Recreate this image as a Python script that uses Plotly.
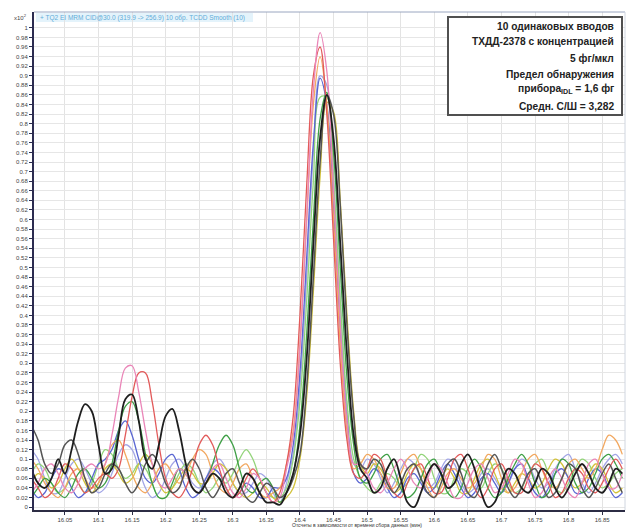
import plotly.graph_objects as go

# Retention time grid (min), 16.00 .. 16.88, step 0.01
time_min = [round(16.00 + 0.01 * i, 2) for i in range(89)]

# Counts (x10^2) for the 10 replicate injections
inj_black = [
    0.08, 0.05, 0.04, 0.06, 0.10, 0.07, 0.12, 0.18, 0.215, 0.20,
    0.13, 0.07, 0.08, 0.15, 0.225, 0.235, 0.18, 0.10, 0.08, 0.13,
    0.19, 0.205, 0.16, 0.09, 0.04, 0.03, 0.05, 0.07, 0.06, 0.03,
    0.02, 0.04, 0.07, 0.06, 0.03, 0.01, 0.01, 0.005, 0.03, 0.07,
    0.15, 0.31, 0.55, 0.77, 0.86, 0.77, 0.55, 0.32, 0.15, 0.08,
    0.06, 0.03, 0.04, 0.08, 0.10, 0.06, 0.01, 0.0, 0.03, 0.07,
    0.09, 0.07, 0.04, 0.05, 0.09, 0.11, 0.08, 0.03, 0.0, 0.01,
    0.05, 0.08, 0.07, 0.04, 0.03, 0.05, 0.08, 0.07, 0.04, 0.02,
    0.04, 0.07, 0.09, 0.07, 0.04, 0.03, 0.05, 0.08, 0.07,
]
inj_gray = [
    0.17, 0.14, 0.09, 0.07, 0.09, 0.13, 0.14, 0.11, 0.06, 0.03,
    0.04, 0.07, 0.09, 0.08, 0.05, 0.03, 0.05, 0.09, 0.11, 0.09,
    0.05, 0.03, 0.04, 0.08, 0.10, 0.08, 0.04, 0.02, 0.04, 0.07,
    0.08, 0.05, 0.02, 0.01, 0.03, 0.05, 0.04, 0.02, 0.03, 0.06,
    0.11, 0.25, 0.48, 0.72, 0.86, 0.82, 0.63, 0.38, 0.19, 0.09,
    0.08, 0.10, 0.09, 0.05, 0.03, 0.05, 0.08, 0.09, 0.06, 0.03,
    0.02, 0.05, 0.09, 0.10, 0.07, 0.03, 0.02, 0.05, 0.09, 0.11,
    0.08, 0.04, 0.02, 0.04, 0.07, 0.08, 0.05, 0.02, 0.03, 0.06,
    0.09, 0.08, 0.04, 0.02, 0.04, 0.07, 0.09, 0.06, 0.03,
]
inj_pink = [
    0.03, 0.05, 0.08, 0.09, 0.07, 0.04, 0.03, 0.05, 0.08, 0.09,
    0.08, 0.09, 0.15, 0.23, 0.29, 0.295, 0.24, 0.16, 0.09, 0.05,
    0.04, 0.06, 0.08, 0.07, 0.04, 0.03, 0.05, 0.08, 0.09, 0.06,
    0.03, 0.02, 0.04, 0.07, 0.06, 0.03, 0.01, 0.02, 0.08, 0.15,
    0.335, 0.60, 0.87, 0.99, 0.91, 0.66, 0.38, 0.18, 0.09, 0.09,
    0.07, 0.04, 0.03, 0.05, 0.08, 0.10, 0.08, 0.05, 0.04, 0.06,
    0.09, 0.08, 0.05, 0.02, 0.02, 0.05, 0.08, 0.09, 0.06, 0.03,
    0.04, 0.07, 0.10, 0.09, 0.05, 0.02, 0.03, 0.06, 0.08, 0.06,
    0.03, 0.02, 0.05, 0.09, 0.10, 0.07, 0.04, 0.04, 0.07,
]
inj_red = [
    0.06, 0.04, 0.02, 0.03, 0.06, 0.09, 0.08, 0.05, 0.03, 0.04,
    0.06, 0.07, 0.06, 0.08, 0.15, 0.23, 0.28, 0.28, 0.22, 0.13,
    0.06, 0.03, 0.02, 0.04, 0.08, 0.13, 0.15, 0.13, 0.08, 0.04,
    0.02, 0.03, 0.06, 0.08, 0.06, 0.03, 0.01, 0.03, 0.09, 0.19,
    0.40, 0.67, 0.90, 0.96, 0.82, 0.56, 0.30, 0.14, 0.07, 0.06,
    0.08, 0.11, 0.10, 0.06, 0.03, 0.02, 0.05, 0.08, 0.09, 0.06,
    0.03, 0.03, 0.06, 0.10, 0.11, 0.08, 0.04, 0.02, 0.04, 0.08,
    0.09, 0.06, 0.03, 0.03, 0.06, 0.09, 0.08, 0.05, 0.02, 0.03,
    0.06, 0.08, 0.07, 0.04, 0.03, 0.05, 0.08, 0.10, 0.08,
]
inj_orange = [
    0.10, 0.08, 0.05, 0.03, 0.02, 0.04, 0.07, 0.08, 0.06, 0.04,
    0.05, 0.09, 0.13, 0.14, 0.11, 0.07, 0.04, 0.03, 0.05, 0.08,
    0.09, 0.07, 0.05, 0.07, 0.10, 0.12, 0.11, 0.07, 0.04, 0.03,
    0.05, 0.08, 0.09, 0.06, 0.03, 0.02, 0.03, 0.04, 0.09, 0.16,
    0.34, 0.60, 0.84, 0.94, 0.84, 0.60, 0.34, 0.16, 0.08, 0.09,
    0.11, 0.10, 0.07, 0.04, 0.04, 0.07, 0.10, 0.11, 0.08, 0.04,
    0.02, 0.04, 0.07, 0.08, 0.06, 0.04, 0.05, 0.08, 0.11, 0.10,
    0.06, 0.03, 0.04, 0.07, 0.10, 0.11, 0.08, 0.05, 0.04, 0.06,
    0.09, 0.10, 0.08, 0.06, 0.08, 0.12, 0.15, 0.14, 0.11,
]
inj_green = [
    0.02, 0.04, 0.06, 0.05, 0.03, 0.02, 0.04, 0.07, 0.08, 0.06,
    0.04, 0.05, 0.09, 0.16, 0.21, 0.22, 0.18, 0.11, 0.05, 0.02,
    0.02, 0.05, 0.08, 0.07, 0.04, 0.03, 0.05, 0.09, 0.13, 0.15,
    0.13, 0.08, 0.04, 0.03, 0.05, 0.06, 0.04, 0.01, 0.03, 0.07,
    0.17, 0.36, 0.60, 0.81, 0.865, 0.74, 0.50, 0.27, 0.13, 0.06,
    0.05, 0.07, 0.10, 0.11, 0.08, 0.04, 0.02, 0.03, 0.06, 0.09,
    0.10, 0.07, 0.03, 0.02, 0.04, 0.08, 0.10, 0.08, 0.04, 0.02,
    0.03, 0.06, 0.09, 0.11, 0.09, 0.05, 0.02, 0.03, 0.07, 0.10,
    0.09, 0.05, 0.03, 0.04, 0.07, 0.10, 0.11, 0.09, 0.06,
]
inj_lightgreen = [
    0.07, 0.09, 0.08, 0.05, 0.03, 0.04, 0.06, 0.05, 0.03, 0.05,
    0.09, 0.12, 0.11, 0.08, 0.06, 0.07, 0.09, 0.08, 0.05, 0.02,
    0.02, 0.04, 0.07, 0.09, 0.08, 0.05, 0.03, 0.04, 0.06, 0.05,
    0.07, 0.10, 0.12, 0.10, 0.06, 0.03, 0.02, 0.02, 0.04, 0.10,
    0.22, 0.43, 0.68, 0.855, 0.855, 0.68, 0.43, 0.22, 0.10, 0.06,
    0.04, 0.03, 0.05, 0.07, 0.06, 0.04, 0.05, 0.08, 0.11, 0.10,
    0.06, 0.03, 0.03, 0.06, 0.08, 0.07, 0.04, 0.04, 0.07, 0.09,
    0.08, 0.05, 0.03, 0.04, 0.07, 0.09, 0.10, 0.07, 0.04, 0.03,
    0.05, 0.08, 0.10, 0.09, 0.06, 0.04, 0.05, 0.07, 0.08,
]
inj_blue = [
    0.04, 0.02, 0.03, 0.06, 0.08, 0.07, 0.04, 0.02, 0.03, 0.06,
    0.09, 0.10, 0.12, 0.16, 0.18, 0.15, 0.10, 0.06, 0.05, 0.07,
    0.10, 0.11, 0.08, 0.04, 0.02, 0.03, 0.06, 0.08, 0.07, 0.04,
    0.02, 0.03, 0.05, 0.04, 0.02, 0.02, 0.04, 0.04, 0.06, 0.13,
    0.28, 0.52, 0.76, 0.895, 0.84, 0.62, 0.37, 0.18, 0.07, 0.05,
    0.06, 0.08, 0.07, 0.04, 0.02, 0.03, 0.06, 0.07, 0.05, 0.03,
    0.04, 0.07, 0.09, 0.07, 0.04, 0.02, 0.03, 0.06, 0.07, 0.05,
    0.03, 0.05, 0.08, 0.09, 0.06, 0.03, 0.02, 0.04, 0.07, 0.08,
    0.06, 0.03, 0.03, 0.06, 0.08, 0.07, 0.04, 0.02, 0.03,
]
inj_lavender = [
    0.12, 0.10, 0.06, 0.03, 0.03, 0.06, 0.09, 0.10, 0.08, 0.05,
    0.03, 0.04, 0.07, 0.11, 0.13, 0.12, 0.08, 0.04, 0.02, 0.03,
    0.06, 0.09, 0.10, 0.08, 0.05, 0.04, 0.06, 0.09, 0.10, 0.08,
    0.05, 0.03, 0.03, 0.05, 0.07, 0.06, 0.03, 0.01, 0.05, 0.11,
    0.25, 0.48, 0.74, 0.90, 0.88, 0.69, 0.43, 0.21, 0.09, 0.08,
    0.10, 0.09, 0.06, 0.03, 0.05, 0.08, 0.10, 0.09, 0.06, 0.04,
    0.05, 0.08, 0.10, 0.09, 0.05, 0.03, 0.04, 0.07, 0.08, 0.06,
    0.04, 0.05, 0.08, 0.10, 0.09, 0.06, 0.04, 0.05, 0.08, 0.10,
    0.11, 0.08, 0.05, 0.03, 0.05, 0.08, 0.10, 0.11, 0.09,
]
inj_yellow = [
    0.05, 0.07, 0.06, 0.04, 0.05, 0.08, 0.10, 0.08, 0.05, 0.03,
    0.05, 0.08, 0.09, 0.07, 0.05, 0.06, 0.09, 0.11, 0.09, 0.05,
    0.03, 0.04, 0.06, 0.08, 0.07, 0.05, 0.05, 0.07, 0.09, 0.08,
    0.05, 0.03, 0.02, 0.03, 0.05, 0.04, 0.02, 0.01, 0.02, 0.04,
    0.10, 0.23, 0.45, 0.69, 0.845, 0.825, 0.64, 0.40, 0.20, 0.09,
    0.07, 0.09, 0.08, 0.05, 0.03, 0.04, 0.07, 0.09, 0.08, 0.05,
    0.04, 0.06, 0.08, 0.06, 0.03, 0.03, 0.06, 0.09, 0.10, 0.07,
    0.04, 0.03, 0.05, 0.07, 0.06, 0.04, 0.05, 0.08, 0.10, 0.09,
    0.06, 0.04, 0.05, 0.07, 0.09, 0.08, 0.05, 0.03, 0.04,
]

series = [
    ("lavender", inj_lavender, "#a3a6e6", 1.3),
    ("lightgreen", inj_lightgreen, "#93d47a", 1.3),
    ("yellow", inj_yellow, "#d2c23a", 1.3),
    ("blue", inj_blue, "#5a66d2", 1.3),
    ("orange", inj_orange, "#f2a860", 1.3),
    ("green", inj_green, "#3f9f46", 1.3),
    ("red", inj_red, "#e25a5a", 1.3),
    ("pink", inj_pink, "#ea86b8", 1.3),
    ("gray", inj_gray, "#555555", 1.5),
    ("black", inj_black, "#1e1e1e", 1.8),
]

x_tick_vals = [16.05, 16.1, 16.15, 16.2, 16.25, 16.3, 16.35, 16.4, 16.45,
               16.5, 16.55, 16.6, 16.65, 16.7, 16.75, 16.8, 16.85]
x_tick_text = ["16.05", "16.1", "16.15", "16.2", "16.25", "16.3", "16.35", "16.4", "16.45",
               "16.5", "16.55", "16.6", "16.65", "16.7", "16.75", "16.8", "16.85"]
y_tick_vals = [round(0.02 * i, 2) for i in range(51)]
y_tick_text = [("%g" % v) for v in y_tick_vals]

legend_lines = [
    "10 одинаковых вводов",
    "ТХДД-2378 с концентрацией",
    "5 фг/мкл",
    "Предел обнаружения",
    "прибора<sub>IDL</sub> = 1,6 фг",
    "Средн. С/Ш = 3,282",
]
trace_title = "+ TQ2 EI MRM CID@30.0 (319.9 -> 256.9) 10 обр. TCDD Smooth (10)"
x_title = "Отсчеты в зависимости от времени сбора данных (мин)"

fig = go.Figure()
for name, vals, col, lw in series:
    assert len(vals) == len(time_min), (name, len(vals))
    fig.add_trace(go.Scatter(
        x=time_min, y=vals, mode="lines", name=name,
        line=dict(color=col, width=lw, shape="spline", smoothing=1.0),
        hoverinfo="skip",
    ))

W, H = 628, 531
ML, MR, MT, MB = 34, 3, 12, 21
PW, PH = W - ML - MR, H - MT - MB


def px(x):
    return (x - ML) / PW


def py(y):
    return 1 - (y - MT) / PH


fig.update_layout(
    width=W, height=H,
    margin=dict(l=ML, r=MR, t=MT, b=MB),
    paper_bgcolor="white", plot_bgcolor="white",
    showlegend=False,
    font=dict(family="Liberation Sans, Arial, sans-serif", color="#333"),
    xaxis=dict(
        range=[16.004, 16.884], tickvals=x_tick_vals, ticktext=x_tick_text,
        tickfont=dict(size=6, color="#444"), showgrid=True, gridcolor="#e3e3e3",
        gridwidth=1, zeroline=False, showline=True, linecolor="#2c2c44",
        linewidth=2, ticks="outside", ticklen=3, tickcolor="#2c2c44",
    ),
    yaxis=dict(
        range=[-0.006, 1.033], tickvals=y_tick_vals, ticktext=y_tick_text,
        tickfont=dict(size=6, color="#444"), showgrid=True, gridcolor="#e6e6e6",
        gridwidth=1, zeroline=False, showline=True, linecolor="#2c2c50",
        linewidth=2, ticks="outside", ticklen=3, tickcolor="#2c2c50",
    ),
    shapes=[
        dict(type="line", xref="paper", yref="paper", x0=0, x1=1, y0=1, y1=1,
             line=dict(color="#9aa6c0", width=1)),
        dict(type="line", xref="paper", yref="paper", x0=1, x1=1, y0=0, y1=1,
             line=dict(color="#d0d6e0", width=1)),
        dict(type="rect", xref="paper", yref="paper",
             x0=px(36), x1=px(253), y0=py(22), y1=py(13),
             fillcolor="#e4f3fb", line=dict(width=0), layer="below"),
        dict(type="rect", xref="paper", yref="paper",
             x0=px(448), x1=px(622), y0=py(115), y1=py(17),
             fillcolor="white", line=dict(color="#505050", width=2)),
    ],
)

ann = [
    dict(text="x10<sup>2</sup>", x=px(29), y=py(17), xref="paper", yref="paper",
         xanchor="right", yanchor="middle", showarrow=False,
         font=dict(size=6, color="#444")),
    dict(text=trace_title, x=px(38), y=py(17.5), xref="paper", yref="paper",
         xanchor="left", yanchor="middle", showarrow=False,
         font=dict(size=6.5, color="#62acd8")),
    dict(text=x_title, x=px(357), y=py(525), xref="paper", yref="paper",
         xanchor="center", yanchor="middle", showarrow=False,
         font=dict(size=5, color="#333")),
]
line_y = [26, 42, 58, 74, 90, 106]
for txt, yy in zip(legend_lines, line_y):
    ann.append(dict(text="<b>" + txt + "</b>", x=px(616), y=py(yy), xref="paper",
                    yref="paper", xanchor="right", yanchor="middle", showarrow=False,
                    font=dict(size=10.2, color="#222")))
fig.update_layout(annotations=ann)

fig.write_html("out.html", config={"displayModeBar": False})

# remove the default page margin so the 628x531 figure fills the window
with open("out.html", "r", encoding="utf-8") as f:
    html = f.read()
html = html.replace("<head>", "<head><style>html,body{margin:0;padding:0;overflow:hidden;}</style>", 1)
with open("out.html", "w", encoding="utf-8") as f:
    f.write(html)
